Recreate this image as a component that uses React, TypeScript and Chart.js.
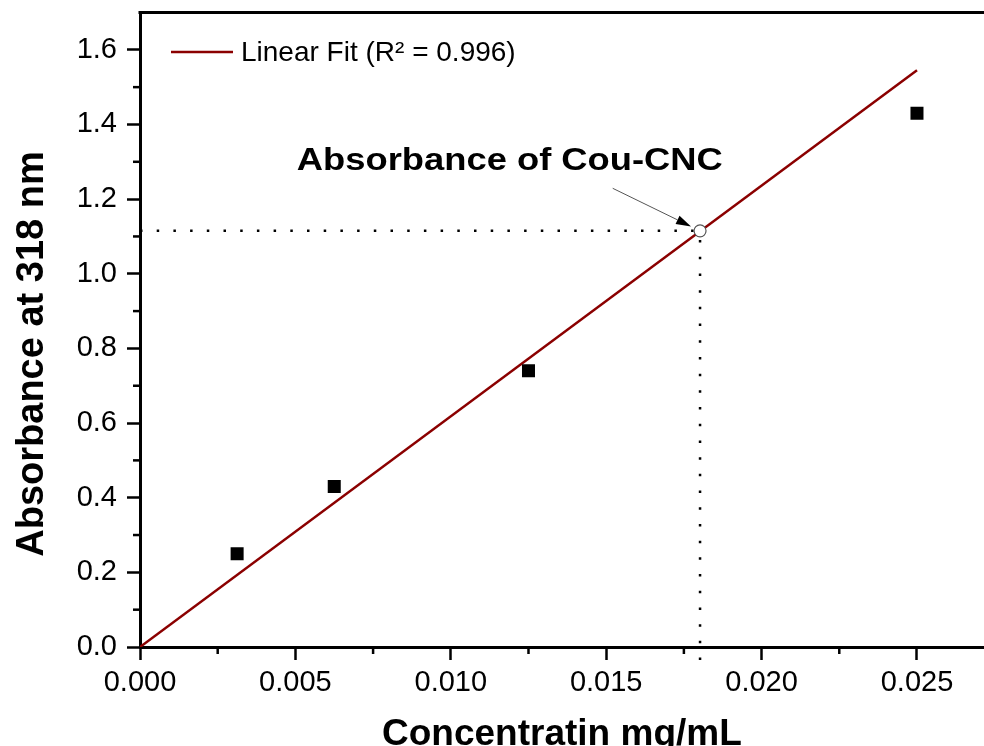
import React, { useEffect, useRef } from 'react';
import { Chart, registerables } from 'chart.js';

Chart.register(...registerables);

// ---- data ----
const concentrations = [0.003125, 0.00625, 0.0125, 0.025];
const absorbances = [0.25, 0.43, 0.74, 1.43];
const fitX = [0, 0.025];
const fitY = [0, 1.545];
const sampleX = 0.01802;
const sampleY = 1.115;
const xTicks = [0, 0.005, 0.01, 0.015, 0.02, 0.025];
const xMinorTicks = [0.0025, 0.0075, 0.0125, 0.0175, 0.0225];
const yTicks = [0, 0.2, 0.4, 0.6, 0.8, 1.0, 1.2, 1.4, 1.6];
const yMinorTicks = [0.1, 0.3, 0.5, 0.7, 0.9, 1.1, 1.3, 1.5];
const legendLabel = 'Linear Fit (R² = 0.996)';
const xTitle = 'Concentratin mg/mL';
const yTitle = 'Absorbance at 318 nm';
const annotationText = 'Absorbance of Cou-CNC';
const annotationAt = { x: 0.0119, y: 1.277 };
const arrowFrom = { x: 0.01521, y: 1.229 };
const arrowTo = { x: 0.01773, y: 1.1267 };

const FONT = '"Liberation Sans", Arial, Helvetica, sans-serif';
const FIT_COLOR = '#8b0000';

const decorPlugin = {
  id: 'decor',
  afterDraw(chart: any) {
    const { ctx, chartArea, scales } = chart;
    const xs = scales.x;
    const ys = scales.y;
    const line = (x1: number, y1: number, x2: number, y2: number) => {
      ctx.beginPath();
      ctx.moveTo(x1, y1);
      ctx.lineTo(x2, y2);
      ctx.stroke();
    };
    ctx.save();
    ctx.strokeStyle = '#000';
    ctx.lineWidth = 2.5;
    xMinorTicks.forEach((v) => {
      const px = xs.getPixelForValue(v);
      line(px, chartArea.bottom, px, chartArea.bottom + 7);
    });
    yMinorTicks.forEach((v) => {
      const py = ys.getPixelForValue(v);
      line(chartArea.left - 7, py, chartArea.left, py);
    });
    // top frame line
    ctx.lineWidth = 3;
    line(chartArea.left - 1.5, chartArea.top, chart.width, chartArea.top);

    // legend
    ctx.strokeStyle = FIT_COLOR;
    ctx.lineWidth = 2.5;
    const ly = chartArea.top + 39.5;
    line(chartArea.left + 31, ly, chartArea.left + 93, ly);
    ctx.fillStyle = '#000';
    ctx.font = `28px ${FONT}`;
    ctx.textAlign = 'left';
    ctx.textBaseline = 'middle';
    ctx.fillText(legendLabel, chartArea.left + 101, ly + 1);

    // annotation text
    ctx.font = `bold 32px ${FONT}`;
    ctx.textAlign = 'center';
    ctx.textBaseline = 'alphabetic';
    const ax = xs.getPixelForValue(annotationAt.x);
    const ay = ys.getPixelForValue(annotationAt.y);
    const natural = ctx.measureText(annotationText).width;
    const sx = 426 / natural;
    ctx.save();
    ctx.translate(ax, ay);
    ctx.scale(sx, 1);
    ctx.fillText(annotationText, 0, 0);
    ctx.restore();

    // arrow
    const x1 = xs.getPixelForValue(arrowFrom.x);
    const y1 = ys.getPixelForValue(arrowFrom.y);
    const x2 = xs.getPixelForValue(arrowTo.x);
    const y2 = ys.getPixelForValue(arrowTo.y);
    const ang = Math.atan2(y2 - y1, x2 - x1);
    const head = 15;
    const hw = 4.5;
    const bx = x2 - head * Math.cos(ang);
    const by = y2 - head * Math.sin(ang);
    ctx.strokeStyle = '#555';
    ctx.lineWidth = 1;
    line(x1, y1, bx, by);
    ctx.fillStyle = '#000';
    ctx.beginPath();
    ctx.moveTo(x2, y2);
    ctx.lineTo(bx + hw * Math.sin(ang), by - hw * Math.cos(ang));
    ctx.lineTo(bx - hw * Math.sin(ang), by + hw * Math.cos(ang));
    ctx.closePath();
    ctx.fill();

    // axis titles
    ctx.fillStyle = '#000';
    ctx.font = `bold 37px ${FONT}`;
    ctx.textAlign = 'center';
    ctx.textBaseline = 'alphabetic';
    ctx.fillText(xTitle, (chartArea.left + chartArea.right) / 2, chart.height - 1);
    ctx.save();
    ctx.translate(43, 354);
    ctx.rotate(-Math.PI / 2);
    ctx.font = `bold 38px ${FONT}`;
    ctx.fillText(yTitle, 0, 0);
    ctx.restore();
    ctx.restore();
  },
};

export default function App() {
  const ref = useRef<HTMLCanvasElement | null>(null);
  useEffect(() => {
    if (!ref.current) return;
    const chart = new Chart(ref.current, {
      type: 'scatter',
      data: {
        datasets: [
          {
            label: 'Linear Fit',
            data: fitX.map((x, i) => ({ x, y: fitY[i] })),
            showLine: true,
            borderColor: FIT_COLOR,
            borderWidth: 2.5,
            pointRadius: 0,
            order: 3,
          },
          {
            label: 'h-guide',
            data: [
              { x: 0, y: sampleY },
              { x: sampleX, y: sampleY },
            ],
            showLine: true,
            borderColor: '#000',
            borderWidth: 2.5,
            borderDash: [2.5, 14.2],
            pointRadius: 0,
            order: 4,
          },
          {
            label: 'v-guide',
            data: [
              { x: sampleX, y: -0.035 },
              { x: sampleX, y: sampleY },
            ],
            showLine: true,
            borderColor: '#000',
            borderWidth: 2.5,
            borderDash: [2.5, 14.2],
            pointRadius: 0,
            clip: false,
            order: 4,
          },
          {
            label: 'Standards',
            data: concentrations.map((x, i) => ({ x, y: absorbances[i] })),
            pointStyle: 'rect',
            pointRadius: 9.2,
            pointBackgroundColor: '#000',
            pointBorderWidth: 0,
            order: 1,
          },
          {
            label: 'Cou-CNC',
            data: [{ x: sampleX, y: sampleY }],
            pointStyle: 'circle',
            pointRadius: 6,
            pointBackgroundColor: '#fff',
            pointBorderColor: '#555',
            pointBorderWidth: 1.2,
            order: 0,
          },
        ],
      },
      options: {
        animation: false,
        responsive: true,
        maintainAspectRatio: false,
        layout: { padding: { top: 12.5, left: 0, right: 0, bottom: 0 } },
        plugins: {
          legend: { display: false },
          tooltip: { enabled: false },
          title: { display: false },
        },
        scales: {
          x: {
            type: 'linear',
            min: 0,
            max: 0.02715,
            afterBuildTicks: (s: any) => {
              s.ticks = xTicks.map((value) => ({ value }));
            },
            afterFit: (s: any) => {
              s.height = 99;
              s.paddingLeft = 0;
              s.paddingRight = 0;
            },
            ticks: {
              color: '#000',
              font: { family: FONT, size: 29 },
              padding: 6,
              maxRotation: 0,
              autoSkip: false,
              callback: (v: any) => Number(v).toFixed(3),
            },
            grid: {
              drawOnChartArea: false,
              tickLength: 13,
              tickWidth: 2.5,
              tickColor: '#000',
            },
            border: { color: '#000', width: 3 },
          },
          y: {
            type: 'linear',
            min: 0,
            max: 1.7,
            afterBuildTicks: (s: any) => {
              s.ticks = yTicks.map((value) => ({ value }));
            },
            afterFit: (s: any) => {
              s.width = 140;
              s.paddingTop = 0;
              s.paddingBottom = 0;
            },
            ticks: {
              color: '#000',
              font: { family: FONT, size: 29 },
              padding: 10,
              autoSkip: false,
              callback: (v: any) => Number(v).toFixed(1),
            },
            grid: {
              drawOnChartArea: false,
              tickLength: 13,
              tickWidth: 2.5,
              tickColor: '#000',
            },
            border: { color: '#000', width: 3 },
          },
        },
      },
      plugins: [decorPlugin],
    });
    return () => chart.destroy();
  }, []);
  return (
    <div
      style={{
        position: 'absolute',
        left: 0,
        top: 0,
        width: 984,
        height: 746,
        overflow: 'hidden',
        background: '#fff',
      }}
    >
      <div style={{ position: 'relative', width: 993, height: 746 }}>
        <canvas ref={ref} />
      </div>
    </div>
  );
}
